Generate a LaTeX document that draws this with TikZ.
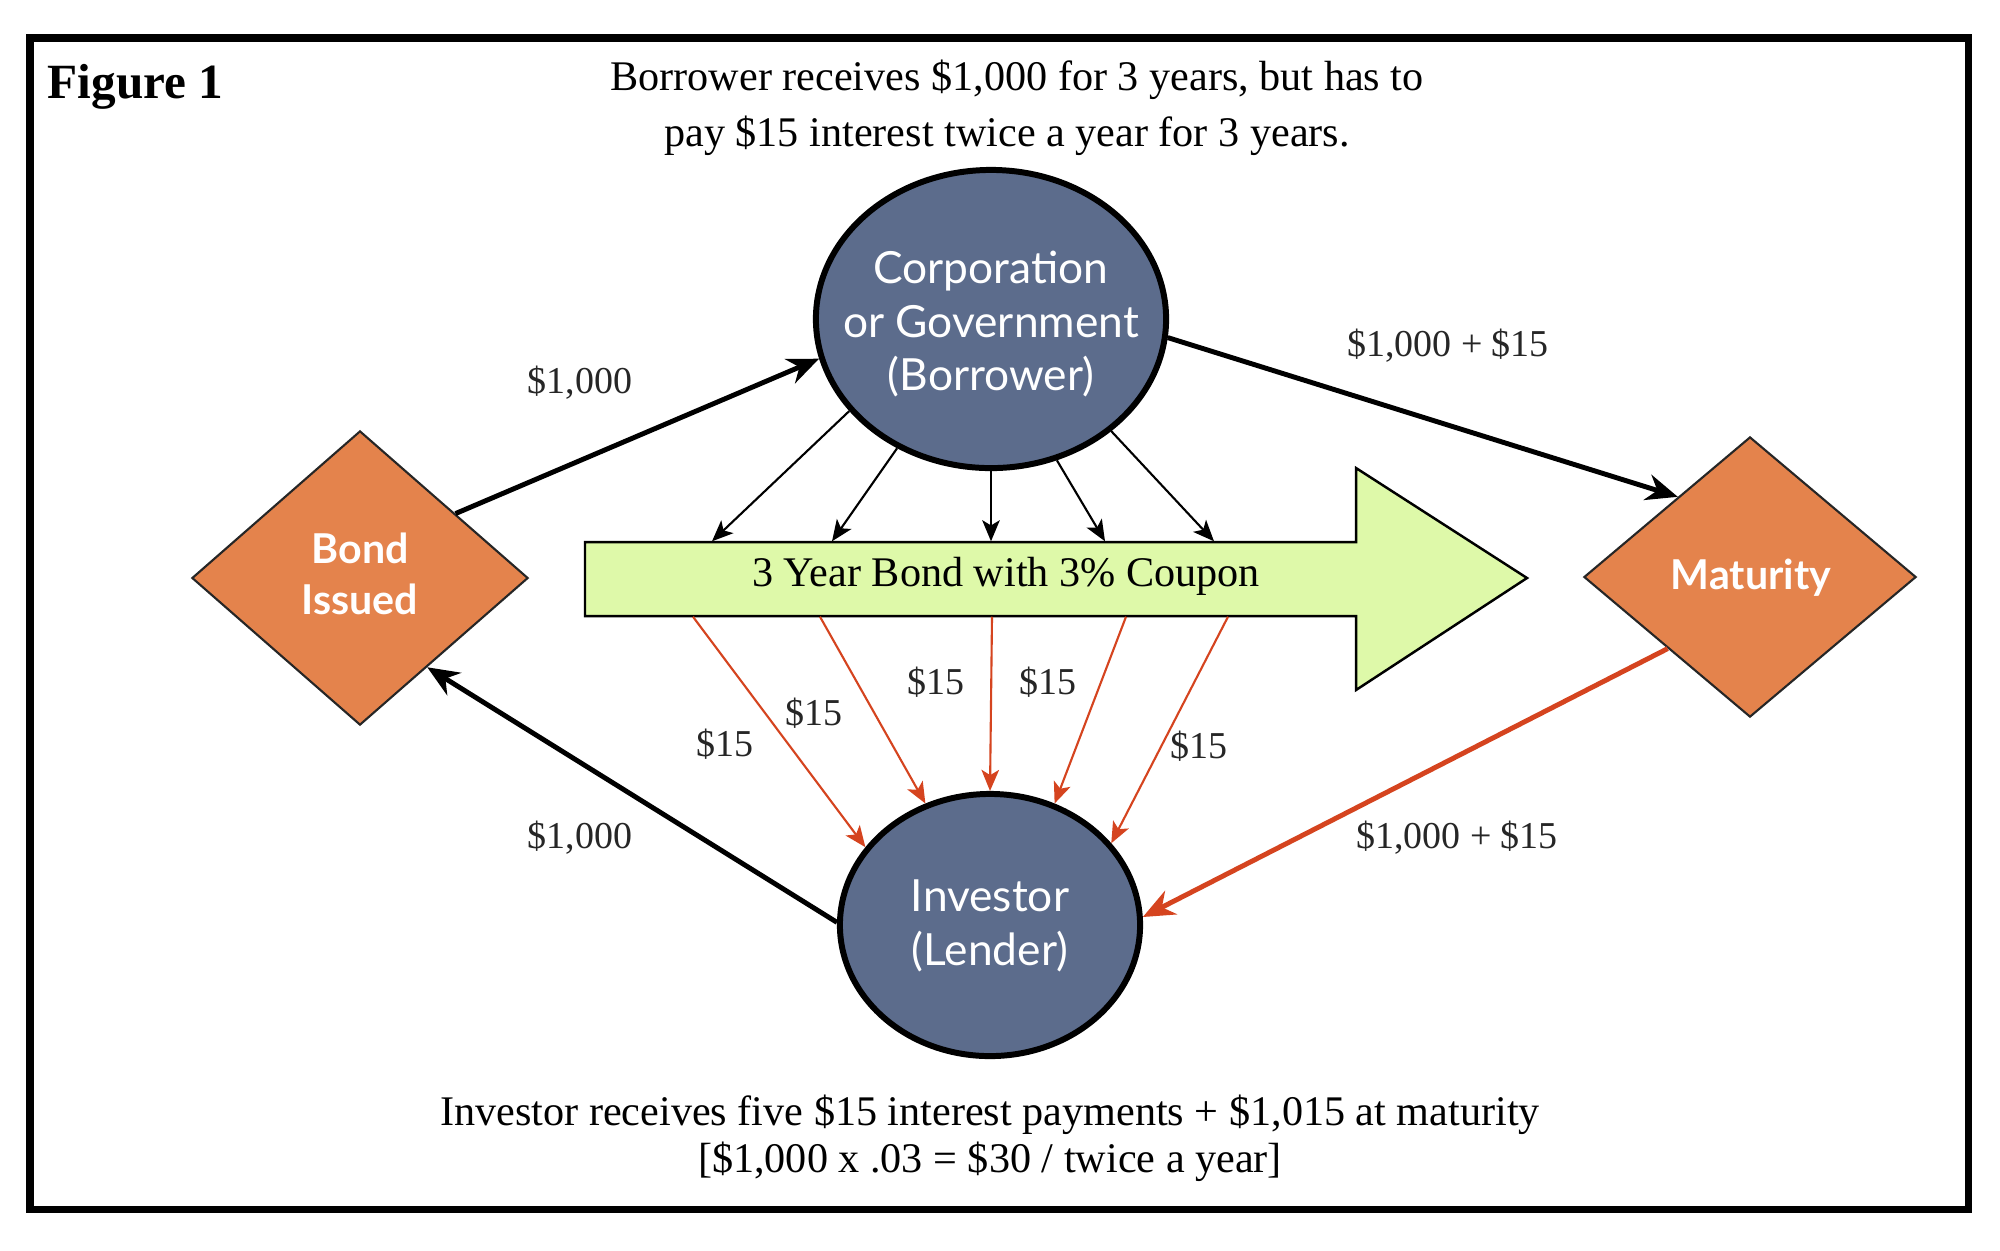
\documentclass[tikz,border=0pt]{standalone}
\usepackage{fontspec}
\setmainfont{Liberation Serif}
\newfontfamily\nodefont{Lato}
\usetikzlibrary{shapes.geometric,arrows.meta}
\definecolor{slate}{HTML}{5C6C8C}
\definecolor{orangefill}{HTML}{E4834C}
\definecolor{greenfill}{HTML}{DEF9A9}
\definecolor{redline}{HTML}{D5441F}
\tikzset{
  party/.style={ellipse, draw=black, line width=1.7pt, fill=slate, inner sep=0pt},
  partytext/.style={text=white, font=\nodefont\fontsize{12.6}{15.3}\selectfont, align=center, inner sep=0pt},
  event/.style={diamond, draw=black!85, line width=0.6pt, fill=orangefill, inner sep=0pt},
  eventtext/.style={text=white, font=\nodefont\bfseries\fontsize{11.7}{14.5}\selectfont, align=center, inner sep=0pt},
  thickarrow/.style={-{Stealth[length=9pt,width=7.5pt]}, line width=1.4pt},
  thinarrow/.style={-{Stealth[length=6pt,width=5pt,inset=1.5pt]}, line width=0.6pt},
  redthin/.style={thinarrow, draw=redline},
  redthick/.style={thickarrow, draw=redline},
  lbl/.style={font=\fontsize{10.8}{13}\selectfont, text=black!85, inner sep=0pt},
  bodytext/.style={font=\fontsize{12}{16}\selectfont, align=center, inner sep=0pt}
}
\begin{document}
\begin{tikzpicture}[x=0.01cm,y=-0.01cm]
\useasboundingbox (0,0) rectangle (2000,1250);
\fill[white] (0,0) rectangle (2000,1250);
\draw[line width=2pt] (30,38) rectangle (1968,1209);

\node[font=\bfseries\fontsize{14}{16}\selectfont, anchor=west, inner sep=0pt] (fig) at (47,87) {Figure 1};
\node[bodytext] (top) at (1017,108) {Borrower receives \$1,000 for 3 years, but has to\\pay \$15 interest twice a year for 3 years.\hspace*{0.2cm}};
\node[bodytext, font=\fontsize{12}{13.5}\selectfont] (bottom) at (990,1138) {Investor receives five \$15 interest payments + \$1,015 at maturity\\{}[\$1,000 x .03 = \$30 / twice a year]};

% green arrow
\draw[fill=greenfill, line width=0.7pt] (585,542) -- (1356,542) -- (1356,468) -- (1527,578) -- (1356,690) -- (1356,616) -- (585,616) -- cycle;
\node[minimum width=7.71cm, minimum height=0.74cm, inner sep=0pt] (bar) at (970.5,579) {};
\node[font=\fontsize{12}{14}\selectfont, inner sep=0pt] (bartext) at (1006,576) {3 Year Bond with 3\% Coupon};

% parties
\node[party, minimum width=3.5cm, minimum height=2.98cm] (corp) at (991,319) {};
\node[partytext] (corptext) at (991,324) {Corporation\\or Government\\(Borrower)};
\node[party, minimum width=3.0cm, minimum height=2.62cm] (inv) at (990,925) {};
\node[partytext] (invtext) at (990,926) {Investor\\(Lender)};

% events
\node[event, minimum width=3.36cm, minimum height=2.94cm] (bond) at (360,578) {};
\node[eventtext] (bondtext) at (360,574) {Bond\\Issued};
\node[event, minimum width=3.32cm, minimum height=2.8cm] (mat) at (1750,577) {};
\node[eventtext] (mattext) at (1751,578) {Maturity};

% thick arrows
\draw[thickarrow] (bond.34) -- (corp.193.7);
\draw[thickarrow] (corp.354.8) -- (mat.132.5);
\draw[thickarrow] (inv.179) -- (bond.307);
\draw[redthick] (mat.221.3) -- (inv.3);

% thin black arrows to bar
\draw[thinarrow] (corp.213) -- (712,0 |- bar.north);
\draw[thinarrow] (corp.234.9) -- (832,0 |- bar.north);
\draw[thinarrow] (corp.270) -- (991,0 |- bar.north);
\draw[thinarrow] (corp.295.9) -- (1105,0 |- bar.north);
\draw[thinarrow] (corp.317.2) -- (1214,0 |- bar.north);

% red thin arrows to investor
\draw[redthin] (693,0 |- bar.south) -- (inv.148.9);
\draw[redthin] (820,0 |- bar.south) -- (inv.118.8);
\draw[redthin] (992,0 |- bar.south) -- (inv.90);
\draw[redthin] (1126,0 |- bar.south) -- (inv.62.9);
\draw[redthin] (1228,0 |- bar.south) -- (inv.34);

% labels
\node[lbl] (l1) at (580,383) {\$1,000};
\node[lbl] (l2) at (1448,346) {\$1,000 + \$15};
\node[lbl] (l3) at (580,838) {\$1,000};
\node[lbl] (l4) at (1457,838) {\$1,000 + \$15};
\node[lbl] (c1) at (725,744) {\$15};
\node[lbl] (c2) at (814,713) {\$15};
\node[lbl] (c3) at (936,682) {\$15};
\node[lbl] (c4) at (1048,682) {\$15};
\node[lbl] (c5) at (1199,746) {\$15};
\end{tikzpicture}
\end{document}
